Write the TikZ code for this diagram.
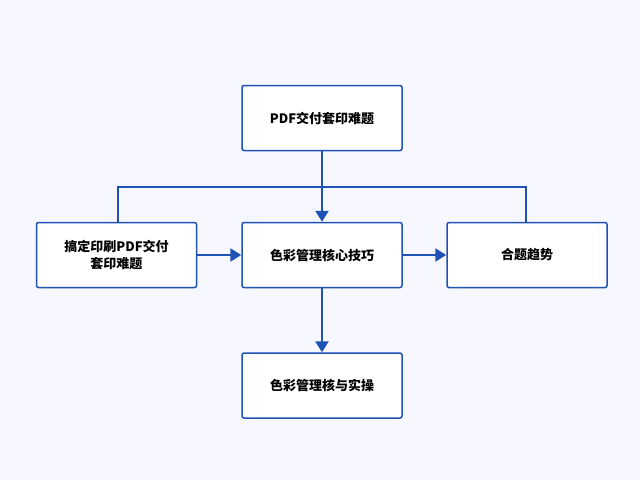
\documentclass[tikz,border=0pt]{standalone}
\usepackage{fontspec}
\setmainfont{Noto Sans CJK SC}
\usetikzlibrary{arrows.meta}
\definecolor{bl}{HTML}{1F52B5}
\begin{document}
\begin{tikzpicture}[x=1pt,y=-1pt,
  box/.style={draw=bl,line width=1.5pt,rounded corners=2pt,fill=white,minimum width=160pt,minimum height=65pt,align=center,font=\bfseries\fontsize{13}{17}\selectfont},
  ar/.style={draw=bl,line width=2.5pt,-{Triangle[length=11pt,width=13pt]}},
  ln/.style={draw=bl,line width=1.5pt}]
\fill[white!97!blue] (0,0) rectangle (640,480);
\useasboundingbox (0,0) rectangle (640,480);
\node[box] (top) at (322,118) {PDF交付套印难题};
\node[box] (left) at (116.5,255) {搞定印刷PDF交付\\套印难题};
\node[box] (mid) at (322,255) {色彩管理核心技巧};
\node[box] (right) at (527,255) {合题趋势};
\node[box] (bot) at (322,385.5) {色彩管理核与实操};
\coordinate (jl) at (118,187);
\coordinate (jr) at (526,187);
\draw[ln] (left.north -| jl) -- (jl) -- (jr) -- (right.north -| jr);
\draw[ar] (top) -- (mid);
\draw[ar] (left) -- (mid);
\draw[ar] (mid) -- (right);
\draw[ar] (mid) -- (bot);
\end{tikzpicture}
\end{document}
